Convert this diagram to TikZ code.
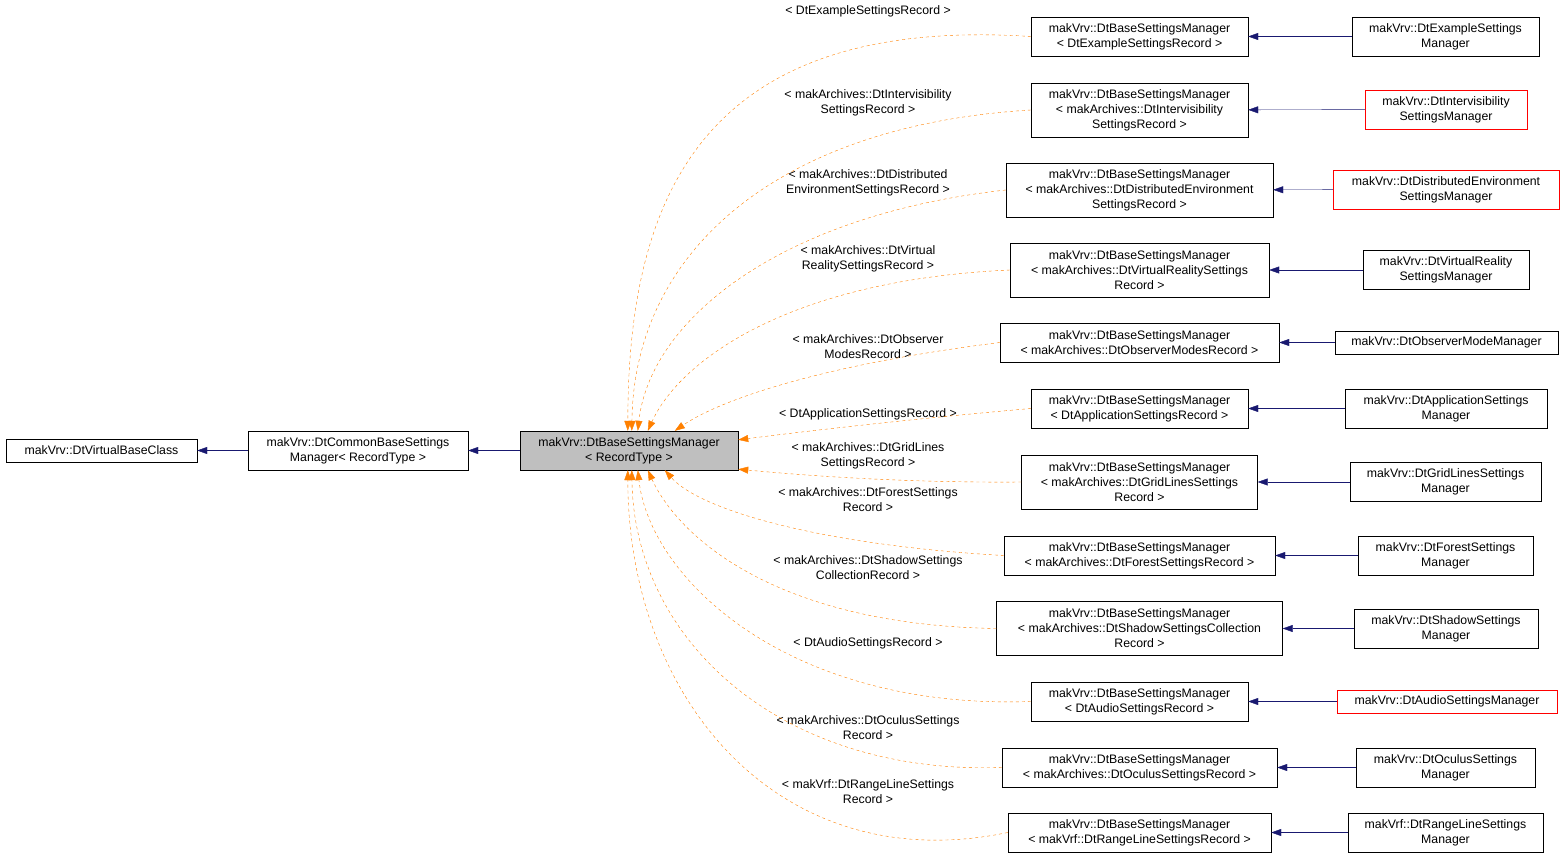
\documentclass[tikz,border=0pt]{standalone}
\usepackage{fontspec}
\setmainfont{Liberation Sans}
\usetikzlibrary{positioning,arrows.meta,calc}

\begin{document}
\begin{tikzpicture}[
    x=1pt, y=-1pt,
    font=\fontsize{12.3}{15}\selectfont,
    box/.style={draw, inner sep=0pt, align=center, minimum height=39},
    redbox/.style={box, draw=red},
    tall/.style={minimum height=54},
    lbl/.style={align=center, inner sep=0pt},
    inh/.style={draw={rgb,255:red,25;green,25;blue,112}, -{Triangle[length=10pt,width=7pt]}},
    tmpl/.style={draw=orange, dashed, -{Triangle[length=10pt,width=7pt]}}
]
\useasboundingbox (0,0) rectangle (1565,866);

% === Left chain ===
\node[box, minimum width=191, minimum height=23] (vbase) at (101.5,450.5) {makVrv::DtVirtualBaseClass};
\node[box, minimum width=220] (common) at (358,450.5) {makVrv::DtCommonBaseSettings\\Manager< RecordType >};
\node[box, minimum width=218, fill=black!25] (base) at (629,450.5) {makVrv::DtBaseSettingsManager\\< RecordType >};
\draw[inh] (common) -- (vbase);
\draw[inh] (base) -- (common);

% === Template instances ===
\node[box, minimum width=217] (m1) at (1139.5,36.5) {makVrv::DtBaseSettingsManager\\< DtExampleSettingsRecord >};
\node[box, tall, minimum width=217] (m2) at (1139.5,110) {makVrv::DtBaseSettingsManager\\< makArchives::DtIntervisibility\\SettingsRecord >};
\node[box, tall, minimum width=267] (m3) at (1139.5,190) {makVrv::DtBaseSettingsManager\\< makArchives::DtDistributedEnvironment\\SettingsRecord >};
\node[box, tall, minimum width=259] (m4) at (1139.5,270) {makVrv::DtBaseSettingsManager\\< makArchives::DtVirtualRealitySettings\\Record >};
\node[box, minimum width=279] (m5) at (1139.5,342.5) {makVrv::DtBaseSettingsManager\\< makArchives::DtObserverModesRecord >};
\node[box, minimum width=217] (m6) at (1139.5,408.5) {makVrv::DtBaseSettingsManager\\< DtApplicationSettingsRecord >};
\node[box, tall, minimum width=236] (m7) at (1139.5,482) {makVrv::DtBaseSettingsManager\\< makArchives::DtGridLinesSettings\\Record >};
\node[box, minimum width=271] (m8) at (1139.5,555.5) {makVrv::DtBaseSettingsManager\\< makArchives::DtForestSettingsRecord >};
\node[box, tall, minimum width=286] (m9) at (1139.5,628.5) {makVrv::DtBaseSettingsManager\\< makArchives::DtShadowSettingsCollection\\Record >};
\node[box, minimum width=217] (m10) at (1139.5,701.5) {makVrv::DtBaseSettingsManager\\< DtAudioSettingsRecord >};
\node[box, minimum width=275] (m11) at (1139.5,767.5) {makVrv::DtBaseSettingsManager\\< makArchives::DtOculusSettingsRecord >};
\node[box, minimum width=263] (m12) at (1139.5,832.5) {makVrv::DtBaseSettingsManager\\< makVrf::DtRangeLineSettingsRecord >};

% === Concrete managers ===
\node[box, minimum width=187] (c1) at (1445.5,36.5) {makVrv::DtExampleSettings\\Manager};
\node[redbox, minimum width=162] (c2) at (1446,109.5) {makVrv::DtIntervisibility\\SettingsManager};
\node[redbox, minimum width=226] (c3) at (1446,189.5) {makVrv::DtDistributedEnvironment\\SettingsManager};
\node[box, minimum width=166] (c4) at (1446,270) {makVrv::DtVirtualReality\\SettingsManager};
\node[box, minimum width=223, minimum height=23] (c5) at (1446.5,342.5) {makVrv::DtObserverModeManager};
\node[box, minimum width=202] (c6) at (1446,408.5) {makVrv::DtApplicationSettings\\Manager};
\node[box, minimum width=191] (c7) at (1445.5,482) {makVrv::DtGridLinesSettings\\Manager};
\node[box, minimum width=175] (c8) at (1445.5,555.5) {makVrv::DtForestSettings\\Manager};
\node[box, minimum width=184] (c9) at (1446,628.5) {makVrv::DtShadowSettings\\Manager};
\node[redbox, minimum width=220, minimum height=23] (c10) at (1447,701.5) {makVrv::DtAudioSettingsManager};
\node[box, minimum width=179] (c11) at (1445.5,767.5) {makVrv::DtOculusSettings\\Manager};
\node[box, minimum width=195] (c12) at (1445.5,832.5) {makVrf::DtRangeLineSettings\\Manager};

\foreach \i in {1,...,12} {
  \draw[inh] (c\i) -- (m\i);
}

% === Template arguments ===
\node[lbl] (t1) at (868,11) {< DtExampleSettingsRecord >};
\node[lbl] (t2) at (868,102.5) {< makArchives::DtIntervisibility\\SettingsRecord >};
\node[lbl] (t3) at (868,182.5) {< makArchives::DtDistributed\\EnvironmentSettingsRecord >};
\node[lbl] (t4) at (868,258.5) {< makArchives::DtVirtual\\RealitySettingsRecord >};
\node[lbl] (t5) at (868,346.5) {< makArchives::DtObserver\\ModesRecord >};
\node[lbl] (t6) at (868,414) {< DtApplicationSettingsRecord >};
\node[lbl] (t7) at (868,455.5) {< makArchives::DtGridLines\\SettingsRecord >};
\node[lbl] (t8) at (868,499.5) {< makArchives::DtForestSettings\\Record >};
\node[lbl] (t9) at (868,567.5) {< makArchives::DtShadowSettings\\CollectionRecord >};
\node[lbl] (t10) at (868,643) {< DtAudioSettingsRecord >};
\node[lbl] (t11) at (868,727.5) {< makArchives::DtOculusSettings\\Record >};
\node[lbl] (t12) at (868,791.5) {< makVrf::DtRangeLineSettings\\Record >};

\draw[tmpl] (m1.west) .. controls (700,15) and (628,200) .. ([xshift=108]base.north west);
\draw[tmpl] (m2.west) .. controls (780,125) and (634,250) .. ([xshift=112]base.north west);
\draw[tmpl] (m3.west) .. controls (780,215) and (650,320) .. ([xshift=118]base.north west);
\draw[tmpl] (m4.west) .. controls (790,280) and (680,360) .. ([xshift=128]base.north west);
\draw[tmpl] (m5.west) .. controls (820,365) and (720,400) .. ([xshift=155]base.north west);
\draw[tmpl] (m6.west) .. controls (900,420) and (800,432) .. ([yshift=-9]base.north east);
\draw[tmpl] (m7.west) .. controls (900,483) and (800,475) .. ([yshift=1]base.south east);
\draw[tmpl] (m8.west) .. controls (820,545) and (700,510) .. ([xshift=145]base.south west);
\draw[tmpl] (m9.west) .. controls (780,625) and (680,540) .. ([xshift=128]base.south west);
\draw[tmpl] (m10.west) .. controls (790,710) and (650,580) .. ([xshift=118]base.south west);
\draw[tmpl] (m11.west) .. controls (780,775) and (634,640) .. ([xshift=112]base.south west);
\draw[tmpl] (m12.west) .. controls (780,880) and (628,700) .. ([xshift=108]base.south west);
\end{tikzpicture}
\end{document}
